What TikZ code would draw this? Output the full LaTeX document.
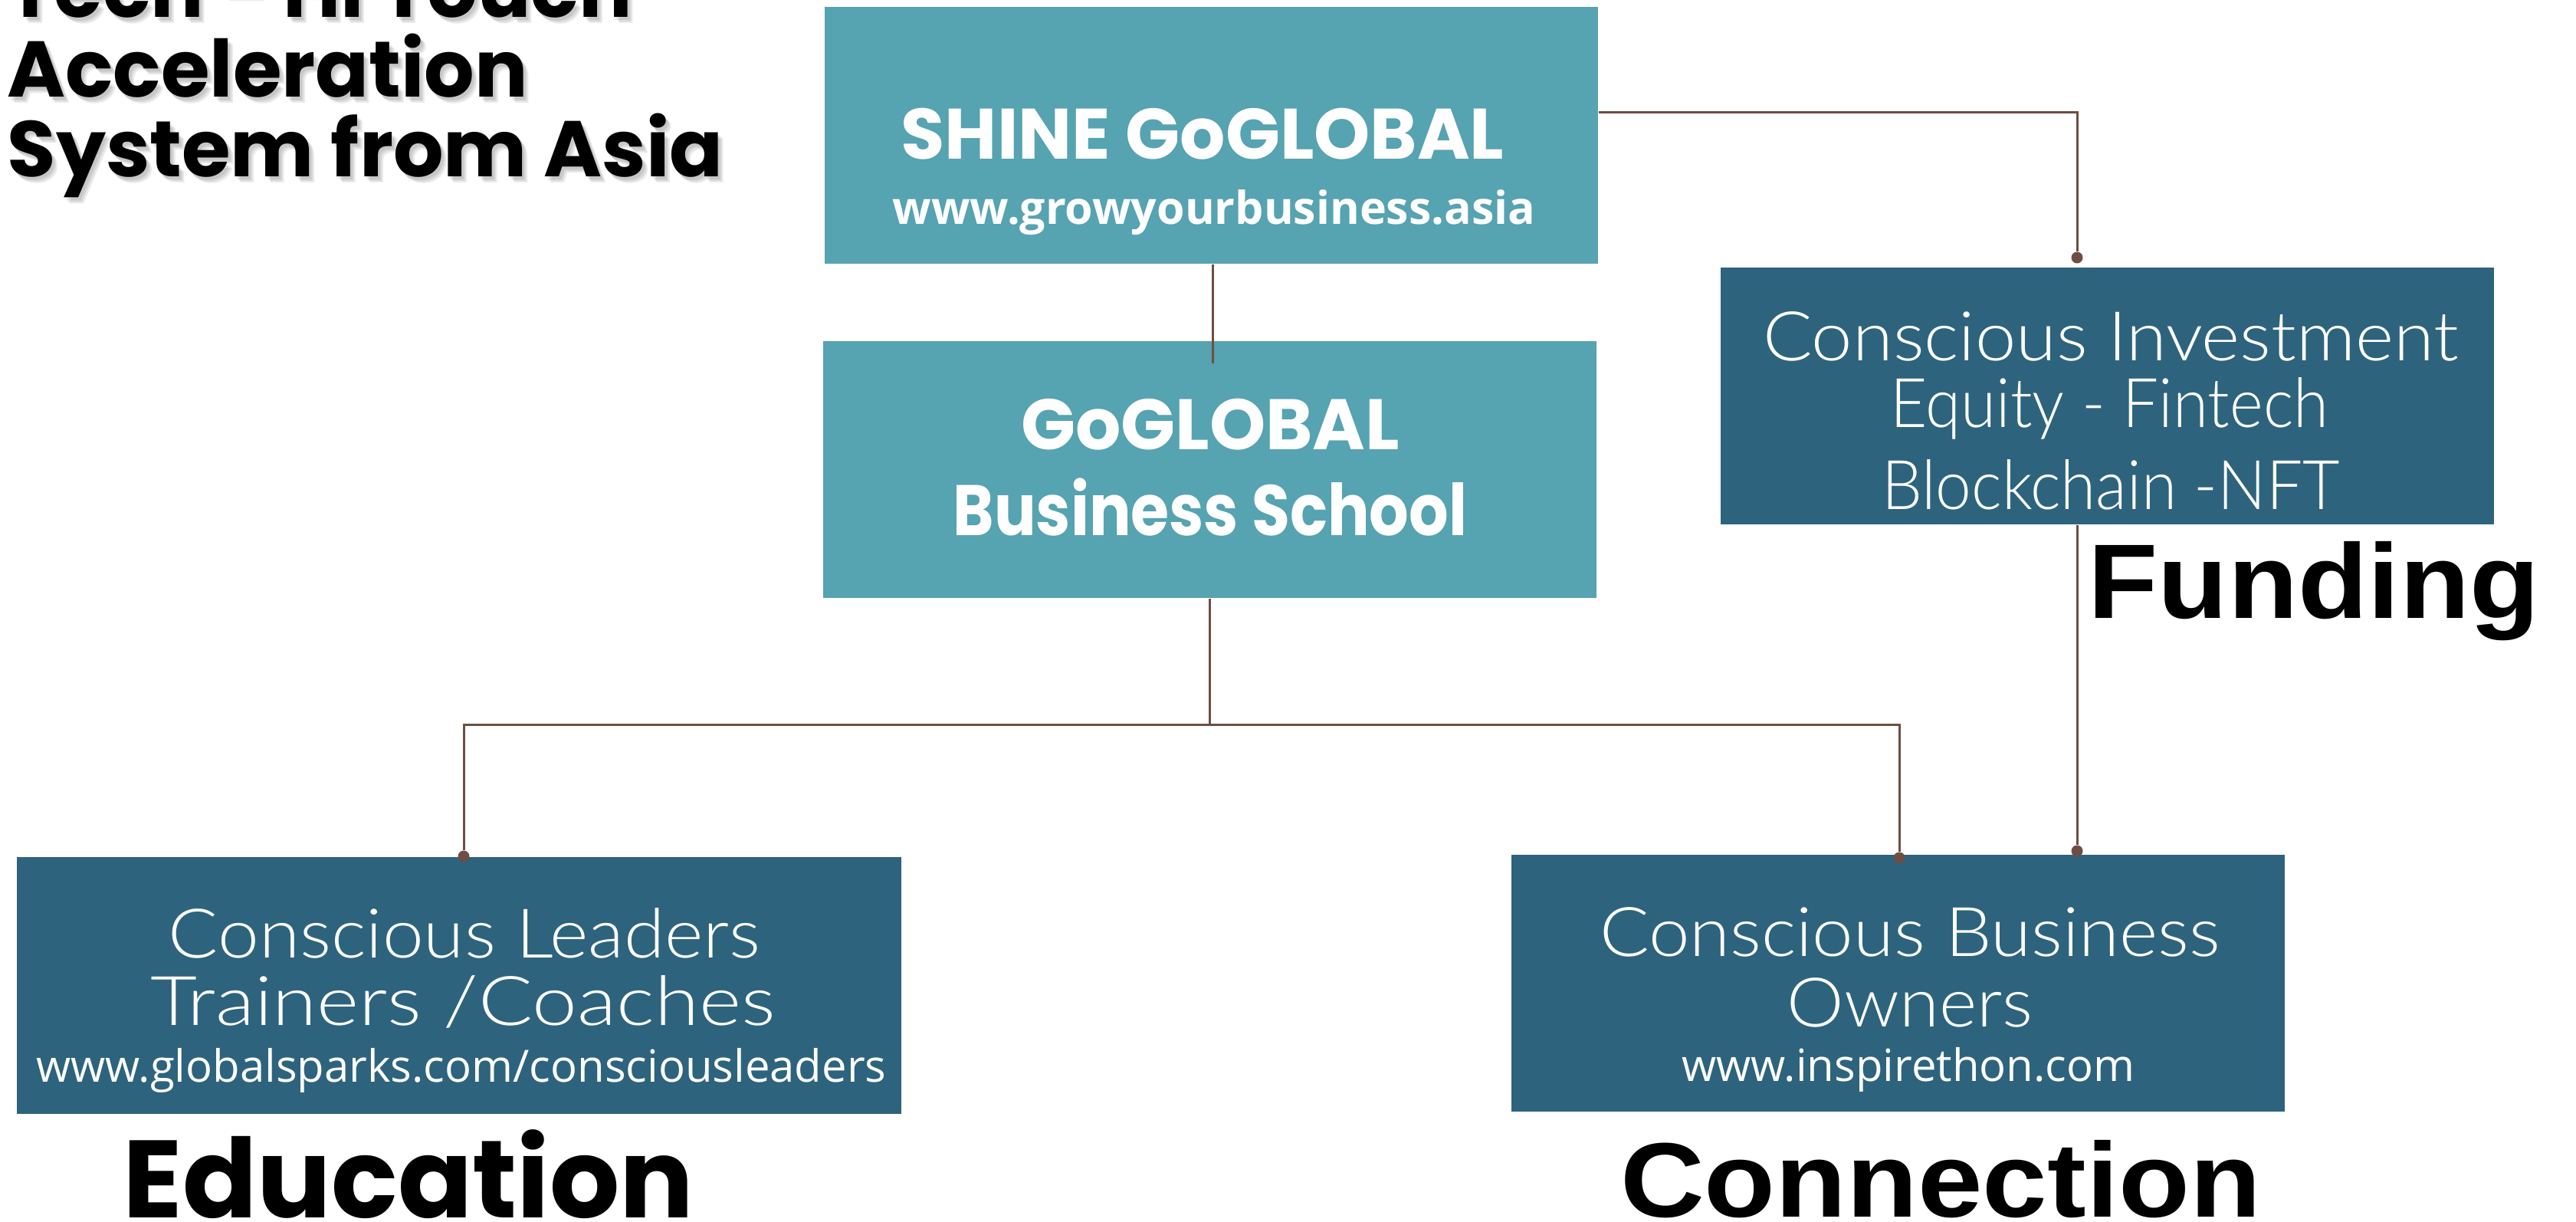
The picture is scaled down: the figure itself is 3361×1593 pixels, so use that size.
\documentclass[tikz,border=0pt]{standalone}
\usepackage{fontspec}
\setmainfont{Open Sans}
\newfontfamily\popfont{Poppins}
\newfontfamily\lightfont{Lato Light}
\newfontfamily\arialfont{Liberation Sans}
\definecolor{tealbox}{HTML}{56A3B1}
\definecolor{navybox}{HTML}{2D637D}
\definecolor{linebrown}{HTML}{6E4E44}
\newcommand{\fsz}[1]{\fontsize{#1}{#1}\selectfont}
\newcommand{\hs}[2]{\scalebox{#1}[1]{#2}}
\begin{document}
\begin{tikzpicture}[x=0.01cm,y=-0.01cm,
  boxbase/.style={rectangle, inner sep=0pt, minimum width=10.09cm, minimum height=3.35cm},
  lightbox/.style={boxbase, fill=tealbox},
  darkbox/.style={boxbase, fill=navybox},
  conn/.style={draw=linebrown, line width=0.85pt},
  dotnode/.style={circle, fill=linebrown, inner sep=0pt, minimum size=0.15cm},
  wtxt/.style={anchor=base, text=white, inner sep=0pt},
  headtxt/.style={wtxt, font=\popfont\bfseries\fsz{26.5pt}},
  thintxt/.style={wtxt, font=\lightfont\fsz{25.4pt}},
  urltxt/.style={wtxt, font=\fsz{16.5pt}},
  bigtxt/.style={anchor=base, inner sep=0pt, text=black},
  titletxt/.style={anchor=base west, inner sep=0pt, font=\popfont\bfseries\fsz{29.3pt}}
]
\useasboundingbox (0,0) rectangle (3361,1593);
\clip (0,0) rectangle (3361,1593);
\fill[white] (0,0) rectangle (3361,1593);

% title with soft shadow
\foreach \dx/\dy in {3/4,5/6,7/8}{
  \node[titletxt, text=black, opacity=0.08] (sh1\dx) at (9+\dx,22+\dy) {Tech - Hi Touch};
  \node[titletxt, text=black, opacity=0.08] (sh2\dx) at (9+\dx,126+\dy) {Acceleration};
  \node[titletxt, text=black, opacity=0.08] (sh3\dx) at (9+\dx,230+\dy) {System from Asia};
}
\node[titletxt] (t1) at (9,22) {Tech - Hi Touch};
\node[titletxt] (t2) at (9,126) {Acceleration};
\node[titletxt] (t3) at (9,230) {System from Asia};

% boxes
\node[lightbox] (shine) at (1580.5,176.5) {};
\node[lightbox] (school) at (1578.5,612.5) {};
\node[darkbox] (invest) at (2749.5,516.5) {};
\node[darkbox, minimum width=11.54cm] (edu) at (599,1285.5) {};
\node[darkbox] (conn) at (2476.5,1282.5) {};

% box texts
\node[headtxt] (shineA) at (1569,207) {SHINE GoGLOBAL};
\node[wtxt, font=\bfseries\fsz{16.8pt}] (shineB) at (1584,292) {www.growyourbusiness.asia};
\node[headtxt] (schoolA) at (1579,586) {GoGLOBAL};
\node[headtxt] (schoolB) at (1579,698) {\hs{0.87}{Business School}};
\node[thintxt] (invA) at (2754,470) {\hs{1.072}{Conscious Investment}};
\node[thintxt] (invB) at (2752,557) {\hs{0.935}{Equity - Fintech}};
\node[thintxt] (invC) at (2754,664) {\hs{0.938}{Blockchain -NFT}};
\node[thintxt] (eduA) at (606,1249) {\hs{1.08}{Conscious Leaders}};
\node[thintxt] (eduB) at (604,1337) {\hs{1.18}{Trainers /Coaches}};
\node[urltxt] (eduC) at (602,1411) {www.globalsparks.com/consciousleaders};
\node[thintxt] (connA) at (2492,1247) {\hs{1.075}{Conscious Business}};
\node[thintxt] (connB) at (2492,1339) {\hs{1.054}{Owners}};
\node[urltxt] (connC) at (2490,1410) {www.inspirethon.com};

% category labels
\node[bigtxt, font=\popfont\bfseries\fsz{40.8pt}] (lblEdu) at (533,1588) {Education};
\node[bigtxt, font=\arialfont\bfseries\fsz{39.3pt}] (lblConn) at (2532,1587) {\hs{1.1}{Connection}};
\node[bigtxt, font=\arialfont\bfseries\fsz{39.3pt}] (lblFund) at (3019,806) {\hs{1.08}{Funding}};

% dots
\node[dotnode] (d1) at (2710,336) {};
\node[dotnode] (d2) at (605,1117) {};
\node[dotnode] (d3) at (2478,1119) {};
\node[dotnode] (d4) at (2710,1110) {};

% connectors
\coordinate (j1) at (2710,146);
\draw[conn] (shine.east |- j1) -- (j1) -- (d1);
\draw[conn] (d1 |- invest.south) -- (d4);
\coordinate (s1) at (1582,474);
\draw[conn] (s1 |- shine.south) -- (s1);
\coordinate (h) at (1578,945);
\draw[conn] (h |- school.south) -- (h);
\draw[conn] (d2) |- (h) -| (d3);
\end{tikzpicture}
\end{document}
